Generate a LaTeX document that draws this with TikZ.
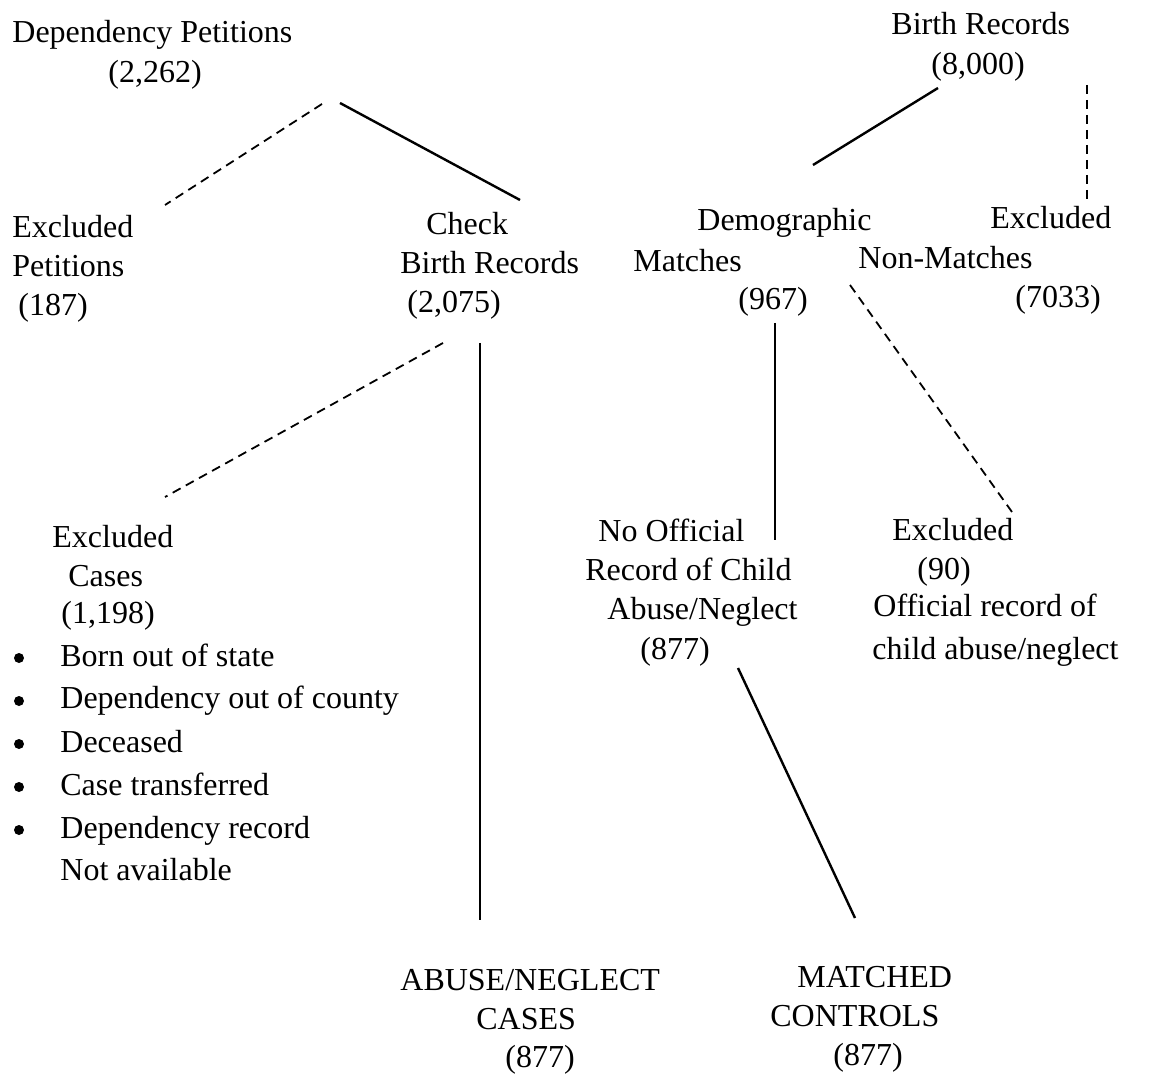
\documentclass[tikz,border=0pt]{standalone}
\usepackage{fontspec}
\setmainfont{Liberation Serif}
\usetikzlibrary{positioning}

\begin{document}
\begin{tikzpicture}[
    x=0.5pt, y=-0.5pt,
    txt/.style={inner sep=0pt, anchor=base west, font=\fontsize{16}{19.5}\selectfont},
    link/.style={line width=1.2pt},
    cut/.style={line width=0.9pt, dash pattern=on 4.5pt off 3pt},
    dot/.style={circle, fill, inner sep=0pt, minimum size=5pt}
]
\useasboundingbox (0,0) rectangle (1158,1075);

% top left
\node[txt] (dep) at (12,43) {Dependency Petitions};
\node[txt] (depN) at (108,83) {(2,262)};
\node[txt] (expA) at (12,238) {Excluded};
\node[txt] (expB) at (12,277) {Petitions};
\node[txt] (expN) at (18,316) {(187)};
\node[txt] (chkA) at (426,235) {Check};
\node[txt] (chkB) at (400,274) {Birth Records};
\node[txt] (chkN) at (407,313) {(2,075)};

% top right
\node[txt] (birth) at (891,35) {Birth Records};
\node[txt] (birthN) at (931,75) {(8,000)};
\node[txt] (demo) at (697,231) {Demographic};
\node[txt] (match) at (633,272) {Matches};
\node[txt] (matchN) at (738,310) {(967)};
\node[txt] (nonm) at (858,269) {Non-Matches};
\node[txt] (exbA) at (990,229) {Excluded};
\node[txt] (exbN) at (1015,308) {(7033)};

% excluded cases
\node[txt] (excA) at (52,547) {Excluded};
\node[txt] (excB) at (68,586) {Cases};
\node[txt] (excN) at (61,624) {(1,198)};
\node[txt] (rs1) at (60,666) {Born out of state};
\node[txt] (rs2) at (60,708) {Dependency out of county};
\node[txt] (rs3) at (60,752) {Deceased};
\node[txt] (rs4) at (60,795) {Case transferred};
\node[txt] (rs5) at (60,838) {Dependency record};
\node[txt] (rs6) at (60,880) {Not available};
\foreach \i/\y in {1/658,2/701,3/744,4/787,5/830}
    \node[dot] (bul\i) at (19,\y) {};

% middle right
\node[txt] (noA) at (598,541) {No Official};
\node[txt] (noB) at (585,581) {Record of Child};
\node[txt] (noC) at (607,619) {Abuse/Neglect};
\node[txt] (noN) at (640,659) {(877)};
\node[txt] (exoA) at (892,540) {Excluded};
\node[txt] (exoN) at (917,580) {(90)};
\node[txt] (exoB) at (873,616) {Official record of};
\node[txt] (exoC) at (872,659) {child abuse/neglect};

% bottom
\node[txt] (caseA) at (400,990) {ABUSE/NEGLECT};
\node[txt] (caseB) at (476,1029) {CASES};
\node[txt] (caseN) at (505,1067) {(877)};
\node[txt] (ctrlA) at (797,987) {MATCHED};
\node[txt] (ctrlB) at (770,1026) {CONTROLS};
\node[txt] (ctrlN) at (833,1065) {(877)};

% line ends
\coordinate (p1) at (322,104);
\coordinate (p2) at (165,205);
\coordinate (p3) at (340,103);
\coordinate (p4) at (520,200);
\coordinate (b1) at (938,88);
\coordinate (b2) at (813,165);
\coordinate (b3) at (1087,85);
\coordinate (b4) at (1087,205);
\coordinate (c1) at (443,343);
\coordinate (c2) at (165,497);
\coordinate (c3) at (480,343);
\coordinate (c4) at (480,920);
\coordinate (m1) at (775,323);
\coordinate (m2) at (775,540);
\coordinate (n1) at (850,285);
\coordinate (n2) at (1012,512);
\coordinate (o1) at (738,668);
\coordinate (o2) at (855,918);

\draw[cut] (p1) -- (p2);
\draw[link] (p3) -- (p4);
\draw[link] (b1) -- (b2);
\draw[cut] (b3) -- (b4);
\draw[cut] (c1) -- (c2);
\draw[link] (c3) -- (c4);
\draw[link] (m1) -- (m2);
\draw[cut] (n1) -- (n2);
\draw[link] (o1) -- (o2);
\end{tikzpicture}
\end{document}
